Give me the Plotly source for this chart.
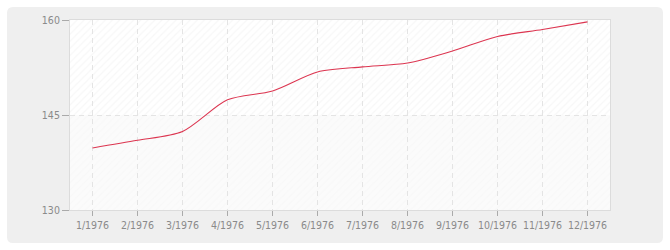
import plotly.graph_objects as go

months = ["1/1976", "2/1976", "3/1976", "4/1976", "5/1976", "6/1976",
          "7/1976", "8/1976", "9/1976", "10/1976", "11/1976", "12/1976"]
values = [139.8, 141.0, 142.4, 147.4, 148.8, 151.8,
          152.6, 153.2, 155.1, 157.4, 158.5, 159.7]
y_ticks = [130, 145, 160]
y_min, y_mid, y_max = 130, 145, 160

W, H = 670, 250
L, R, T, B = 70, 60, 20, 40
pw, ph = W - L - R, H - T - B

def px(x):
    return (x - L) / pw

def py(y):
    return (H - B - y) / ph

# rounded grey frame (paper coordinates)
x0, x1, y0, y1, r = 7, 663, 7, 243, 6
rx, ry = r / pw, r / ph
path = (
    f"M{px(x0)+rx},{py(y0)} L{px(x1)-rx},{py(y0)} Q{px(x1)},{py(y0)} {px(x1)},{py(y0)-ry} "
    f"L{px(x1)},{py(y1)+ry} Q{px(x1)},{py(y1)} {px(x1)-rx},{py(y1)} "
    f"L{px(x0)+rx},{py(y1)} Q{px(x0)},{py(y1)} {px(x0)},{py(y1)+ry} "
    f"L{px(x0)},{py(y0)-ry} Q{px(x0)},{py(y0)} {px(x0)+rx},{py(y0)} Z"
)

fig = go.Figure()

# background bands with hatch (subplot 1)
fig.add_trace(go.Bar(
    x=[0.5], y=[y_max - y_mid], base=[y_mid], width=[1],
    marker=dict(color="#ffffff", line=dict(width=0),
                pattern=dict(shape="/", fgcolor="#f0f0f0", bgcolor="#ffffff",
                             size=5, solidity=0.25)),
    xaxis="x", yaxis="y", hoverinfo="skip", showlegend=False))
fig.add_trace(go.Bar(
    x=[0.5], y=[y_mid - y_min], base=[y_min], width=[1],
    marker=dict(color="#fafafa", line=dict(width=0),
                pattern=dict(shape="/", fgcolor="#f5f5f5", bgcolor="#fbfbfb",
                             size=5, solidity=0.25)),
    xaxis="x", yaxis="y", hoverinfo="skip", showlegend=False))

# data line (subplot 2)
fig.add_trace(go.Scatter(
    x=list(range(len(months))), y=values, mode="lines",
    line=dict(color="#dc3550", width=1.1, shape="spline", smoothing=0.8),
    xaxis="x2", yaxis="y2", showlegend=False))

font = dict(family="DejaVu Sans Condensed, DejaVu Sans", size=10.5, color="#8a8a8a")

fig.update_layout(
    width=W, height=H,
    margin=dict(l=L, r=R, t=T, b=B),
    paper_bgcolor="#ffffff",
    plot_bgcolor="rgba(0,0,0,0)",
    bargap=0,
    barmode="overlay",
    shapes=[dict(type="path", path=path, xref="paper", yref="paper",
                 fillcolor="#efefef", line=dict(width=0), layer="below")],
    xaxis=dict(domain=[0, 1], range=[0, 1], visible=False, fixedrange=True),
    yaxis=dict(domain=[0, 1], range=[y_min, y_max], visible=False, fixedrange=True),
    xaxis2=dict(domain=[0, 1], anchor="y2", range=[-0.5, len(months) - 0.5],
                tickmode="array", tickvals=list(range(len(months))), ticktext=months,
                showgrid=True, gridcolor="#e4e4e4", griddash="5px,4px", gridwidth=1,
                showline=True, linecolor="#dcdcdc", linewidth=1, mirror=True,
                ticks="outside", ticklen=5, tickcolor="#aaaaaa", tickfont=font,
                zeroline=False),
    yaxis2=dict(domain=[0, 1], anchor="x2", range=[y_min, y_max],
                tickmode="array", tickvals=y_ticks, ticktext=[str(v) for v in y_ticks],
                showgrid=True, gridcolor="#e4e4e4", griddash="5px,4px", gridwidth=1,
                showline=True, linecolor="#dcdcdc", linewidth=1, mirror=True,
                ticks="outside", ticklen=7, tickcolor="#aaaaaa", tickfont=font,
                zeroline=False),
)

fig.write_html("out.html")
